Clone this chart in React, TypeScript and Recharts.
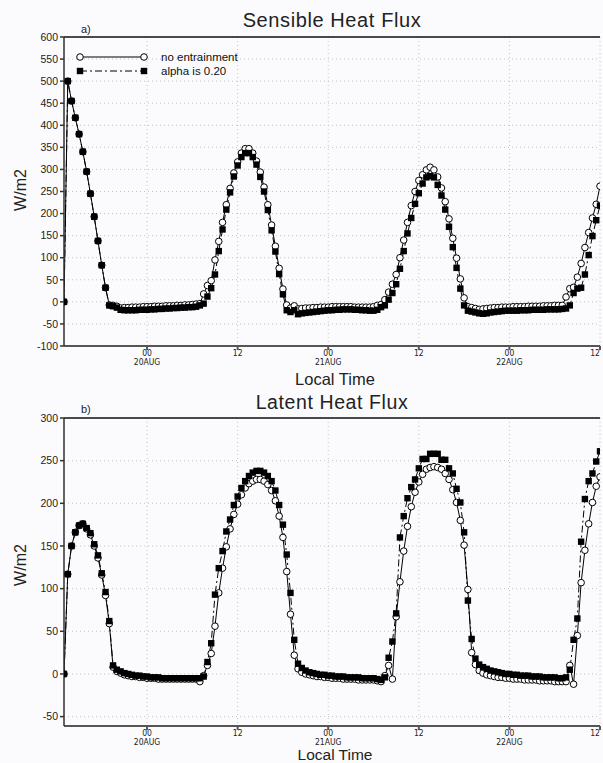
import React from 'react'
import { LineChart, Line, XAxis, YAxis, CartesianGrid, ReferenceLine } from 'recharts'

// half-hourly values, 13 LT 19AUG -> 12 LT 22AUG
const shfNoEnt = [
  0, 500, 455, 417, 380, 340, 295, 245, 193, 138, 83, 32, -7, -8, -10, -14, -13, -13, -12, -12,
  -12, -11, -11, -11, -10, -10, -10, -9, -9, -9, -8, -8, -7, -7, -6, -5, -4, 18, 37, 48,
  95, 137, 180, 220, 257, 292, 317, 337, 347, 347, 337, 319, 294, 260, 220, 174, 126, 76, 29, -7,
  -14, -9, -16, -15, -14, -14, -13, -13, -12, -12, -12, -11, -11, -11, -11, -11, -11, -12, -12, -12,
  -12, -12, -11, -8, -6, 5, 22, 40, 62, 100, 140, 180, 218, 250, 275, 288, 299, 305, 299, 283,
  258, 227, 188, 144, 99, 52, 9, -11, -13, -15, -17, -16, -15, -14, -13, -13, -12, -12, -12, -11,
  -11, -11, -11, -10, -10, -10, -10, -9, -9, -9, -8, -8, -8, 11, 30, 33, 56, 87, 123, 157,
  190, 221, 262,
]
const shfAlpha = [
  0, 500, 455, 417, 380, 340, 295, 245, 193, 138, 83, 32, -8, -10, -13, -18, -19, -19, -19, -19,
  -18, -18, -18, -17, -17, -16, -16, -15, -15, -14, -14, -13, -13, -12, -12, -11, -8, -4, 12, 31,
  62, 115, 164, 209, 248, 284, 309, 328, 337, 337, 328, 311, 283, 250, 208, 162, 114, 63, 17, -19,
  -23, -19, -28, -26, -25, -24, -23, -22, -21, -20, -19, -19, -18, -18, -17, -17, -17, -18, -18, -19,
  -19, -20, -20, -18, -12, -8, 5, 20, 40, 75, 115, 155, 190, 222, 246, 268, 282, 285, 282, 265,
  241, 209, 170, 124, 77, 30, -8, -20, -22, -24, -26, -27, -26, -24, -23, -22, -21, -20, -20, -20,
  -20, -19, -19, -19, -18, -18, -18, -18, -17, -17, -17, -17, -16, -15, -8, 20, 30, 32, 62, 106,
  149, 185, 218,
]
const lhfNoEnt = [
  0, 117, 150, 166, 174, 176, 170, 163, 150, 136, 116, 92, 59, 8, 3, 1, -1, -2, -3, -3,
  -4, -4, -5, -5, -5, -6, -6, -6, -6, -6, -6, -6, -6, -6, -6, -6, -9, -2, 10, 24,
  56, 95, 124, 149, 170, 187, 199, 210, 218, 223, 226, 228, 228, 226, 222, 215, 203, 185, 160, 120,
  70, 22, 6, 2, 0, -1, -2, -3, -3, -4, -4, -5, -5, -5, -6, -6, -6, -6, -7, -7,
  -7, -7, -7, -8, -9, -2, 10, -6, 67, 108, 144, 173, 196, 213, 225, 234, 240, 242, 243, 242,
  240, 235, 228, 216, 201, 180, 151, 99, 25, 11, 4, 1, -1, -2, -3, -4, -4, -5, -5, -6,
  -6, -6, -7, -7, -7, -7, -8, -8, -8, -8, -9, -9, -9, -9, 10, -12, 45, 107, 145, 176,
  201, 220, 231,
]
const lhfAlpha = [
  0, 117, 150, 166, 174, 176, 171, 165, 152, 139, 118, 96, 62, 10, 5, 3, 1, 0, -1, -2,
  -2, -3, -3, -4, -4, -4, -5, -5, -5, -5, -5, -5, -5, -5, -5, -5, -5, -3, 14, 36,
  93, 124, 144, 167, 181, 198, 208, 218, 226, 232, 236, 238, 238, 236, 232, 226, 215, 198, 175, 140,
  95, 40, 12, 7, 4, 2, 1, 0, -1, -1, -2, -2, -3, -3, -3, -4, -4, -4, -4, -5,
  -5, -5, -5, -6, -7, -4, 19, 38, 71, 160, 185, 206, 219, 228, 241, 252, 252, 258, 258, 258,
  251, 251, 241, 235, 217, 201, 166, 86, 41, 18, 11, 8, 6, 4, 3, 2, 1, 0, 0, -1,
  -1, -2, -2, -2, -3, -3, -3, -4, -4, -4, -4, -5, -5, -4, 5, 40, 65, 155, 205, 226,
  235, 249, 261,
]

// hours since 13 LT 19AUG
const timeTicks = [11, 23, 35, 47, 59, 71]
const tickHours = ['00', '12', '00', '12', '00', '12']
const tickDays = ['20AUG', '', '21AUG', '', '22AUG', '']
const shfTicks = [-100, -50, 0, 50, 100, 150, 200, 250, 300, 350, 400, 450, 500, 550, 600]
const lhfTicks = [-50, 0, 50, 100, 150, 200, 250, 300]

const shfData = shfAlpha.map((v, i) => ({ t: i * 0.5, ne: shfNoEnt[i], al: v }))
const lhfData = lhfAlpha.map((v, i) => ({ t: i * 0.5, ne: lhfNoEnt[i], al: v }))

const sans = '"Liberation Sans", Arial, sans-serif'
const narrow = '"Liberation Sans Narrow", "DejaVu Sans Condensed", "Liberation Sans", sans-serif'

const TimeTick = (props: any) => {
  const { x, y, payload } = props
  const k = timeTicks.indexOf(payload.value)
  return (
    <g>
      <text x={x} y={y + 6} textAnchor="middle" fontSize={8.5} fill="#222" fontFamily={narrow}>
        {tickHours[k]}
      </text>
      {tickDays[k] ? (
        <text x={x} y={y + 15} textAnchor="middle" fontSize={8.5} fill="#222" fontFamily={narrow}>
          {tickDays[k]}
        </text>
      ) : null}
    </g>
  )
}

const openCircle = (props: any) => {
  const { cx, cy, index } = props
  return <circle key={'o' + index} cx={cx} cy={cy} r={3.3} fill="#fff" stroke="#000" strokeWidth={1} />
}

const filledSquare = (props: any) => {
  const { cx, cy, index } = props
  return <rect key={'s' + index} x={cx - 3.2} y={cy - 3.2} width={6.4} height={6.4} fill="#000" />
}

function FluxPanel({ data, domain, ticks, top, height, bottom }: any) {
  return (
    <div style={{ position: 'absolute', left: 0, top }}>
      <LineChart width={603} height={height} data={data} margin={{ top: 37, right: 3, bottom, left: 14 }}>
        <CartesianGrid strokeDasharray="1 3" stroke="#c4c4c4" />
        <XAxis
          type="number"
          dataKey="t"
          domain={[0, 71]}
          ticks={timeTicks}
          tick={<TimeTick />}
          tickSize={4}
          tickMargin={0}
          height={30}
          stroke="#555"
          strokeWidth={2}
          allowDataOverflow
        />
        <YAxis
          type="number"
          domain={domain}
          ticks={ticks}
          interval={0}
          width={50}
          tickSize={4}
          tickMargin={2}
          stroke="#333"
          strokeWidth={1.5}
          tick={{ fontSize: 10.5, fill: '#222', fontFamily: sans }}
          allowDataOverflow
        />
        <ReferenceLine y={domain[1]} stroke="#111" strokeWidth={1.5} />
        <Line type="linear" dataKey="ne" stroke="#000" strokeWidth={1} dot={openCircle} isAnimationActive={false} />
        <Line
          type="linear"
          dataKey="al"
          stroke="#000"
          strokeWidth={1}
          strokeDasharray="7 3 2 3"
          dot={filledSquare}
          isAnimationActive={false}
        />
      </LineChart>
    </div>
  )
}

export default function App() {
  return (
    <div style={{ position: 'absolute', left: 0, top: 0, width: 603, height: 763, background: '#fbfbfd' }}>
      <FluxPanel data={shfData} domain={[-100, 600]} ticks={shfTicks} top={0} height={381} bottom={5} />
      <FluxPanel data={lhfData} domain={[-61, 300]} ticks={lhfTicks} top={381} height={382} bottom={7} />
      <svg width={603} height={763} style={{ position: 'absolute', left: 0, top: 0, pointerEvents: 'none' }}>
        <g fontFamily={sans} fill="#222">
          <text x={332} y={27} textAnchor="middle" fontSize={20} letterSpacing={0.6}>Sensible Heat Flux</text>
          <text x={332} y={409} textAnchor="middle" fontSize={19.5} letterSpacing={0.6}>Latent Heat Flux</text>
          <text x={81} y={33} fontSize={11}>a)</text>
          <text x={81} y={413} fontSize={11}>b)</text>
          <text x={335} y={385} textAnchor="middle" fontSize={16.5}>Local Time</text>
          <text x={335} y={760} textAnchor="middle" fontSize={15.5}>Local Time</text>
          <text x={26} y={190} textAnchor="middle" fontSize={16} transform="rotate(-90 26 190)">W/m2</text>
          <text x={26} y={565} textAnchor="middle" fontSize={16} transform="rotate(-90 26 565)">W/m2</text>
        </g>
        {/* legend */}
        <line x1={80} y1={57} x2={144} y2={57} stroke="#000" strokeWidth={1} />
        <circle cx={80} cy={57} r={3.3} fill="#fff" stroke="#000" />
        <circle cx={144} cy={57} r={3.3} fill="#fff" stroke="#000" />
        <line x1={80} y1={71} x2={144} y2={71} stroke="#000" strokeWidth={1} strokeDasharray="7 3 2 3" />
        <rect x={76.8} y={67.8} width={6.4} height={6.4} fill="#000" />
        <rect x={140.8} y={67.8} width={6.4} height={6.4} fill="#000" />
        <text x={161} y={61} fontSize={11.5} fontFamily={sans} fill="#111">no entrainment</text>
        <text x={161} y={75} fontSize={11.5} fontFamily={sans} fill="#111">alpha is 0.20</text>
      </svg>
    </div>
  )
}
